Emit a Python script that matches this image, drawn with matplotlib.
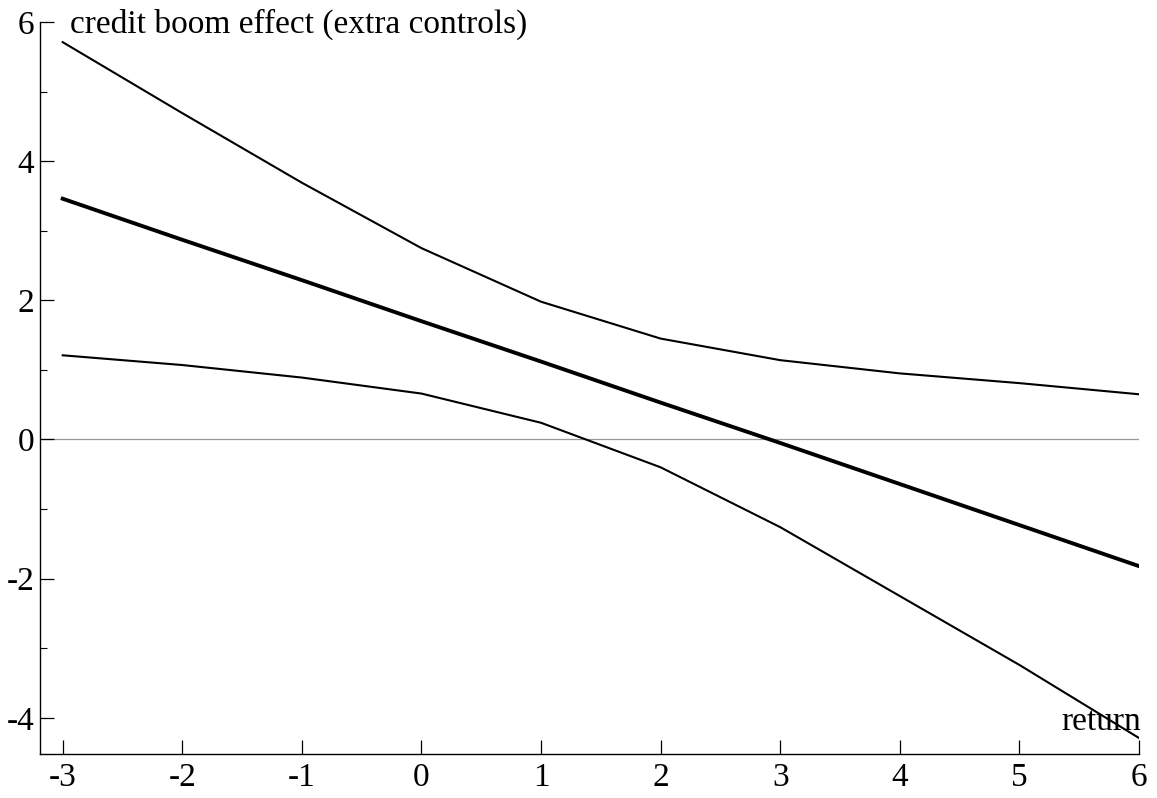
import matplotlib
matplotlib.use("Agg")
import matplotlib.pyplot as plt
from matplotlib.ticker import MultipleLocator

plt.rcParams['font.family'] = ['Liberation Serif', 'DejaVu Serif']
plt.rcParams['axes.unicode_minus'] = False

returns = [-3, -2, -1, 0, 1, 2, 3, 4, 5, 6]
effect = [3.46, 2.87, 2.29, 1.70, 1.12, 0.53, -0.05, -0.64, -1.23, -1.82]
upper = [5.71, 4.69, 3.69, 2.75, 1.98, 1.45, 1.14, 0.95, 0.81, 0.65]
lower = [1.21, 1.07, 0.89, 0.66, 0.24, -0.40, -1.26, -2.25, -3.24, -4.29]
xticks = [-3, -2, -1, 0, 1, 2, 3, 4, 5, 6]
yticks = [-4, -2, 0, 2, 4, 6]

W, H = 1157, 798
fig = plt.figure(figsize=(W / 100, H / 100), dpi=100)
ax = fig.add_axes([40 / W, 44 / H, (1139 - 40) / W, (754 - 22) / H])

ax.axhline(0, color='#999999', lw=0.9, zorder=1)
ax.plot(returns, upper, color='black', lw=1.5, zorder=2)
ax.plot(returns, lower, color='black', lw=1.5, zorder=2)
ax.plot(returns, effect, color='black', lw=2.8, zorder=3)

ax.set_xlim(-3.19, 6)
ax.set_ylim(-4.52, 6)
ax.set_xticks(xticks)
ax.set_xticklabels([str(v) for v in xticks])
ax.set_yticks(yticks)
ax.set_yticklabels([str(v) for v in yticks])
ax.yaxis.set_minor_locator(MultipleLocator(1))

for s in ['top', 'right']:
    ax.spines[s].set_visible(False)
for s in ['left', 'bottom']:
    ax.spines[s].set_linewidth(1.0)
    ax.spines[s].set_color('black')

ax.tick_params(axis='both', which='major', direction='in', length=10, width=0.9,
               labelsize=24, colors='black')
ax.tick_params(axis='y', which='major', pad=4)
ax.tick_params(axis='x', which='major', pad=6)
ax.tick_params(axis='y', which='minor', direction='in', length=5, width=0.8)
ax.tick_params(axis='x', which='minor', length=0)

fig.text(70 / W, 1 - 33 / H, 'credit boom effect (extra controls)', fontsize=24,
         ha='left', va='baseline')
ax.text(1.002, 0.033, 'return', transform=ax.transAxes, fontsize=24,
        ha='right', va='baseline')

fig.savefig('out.png', dpi=100)
